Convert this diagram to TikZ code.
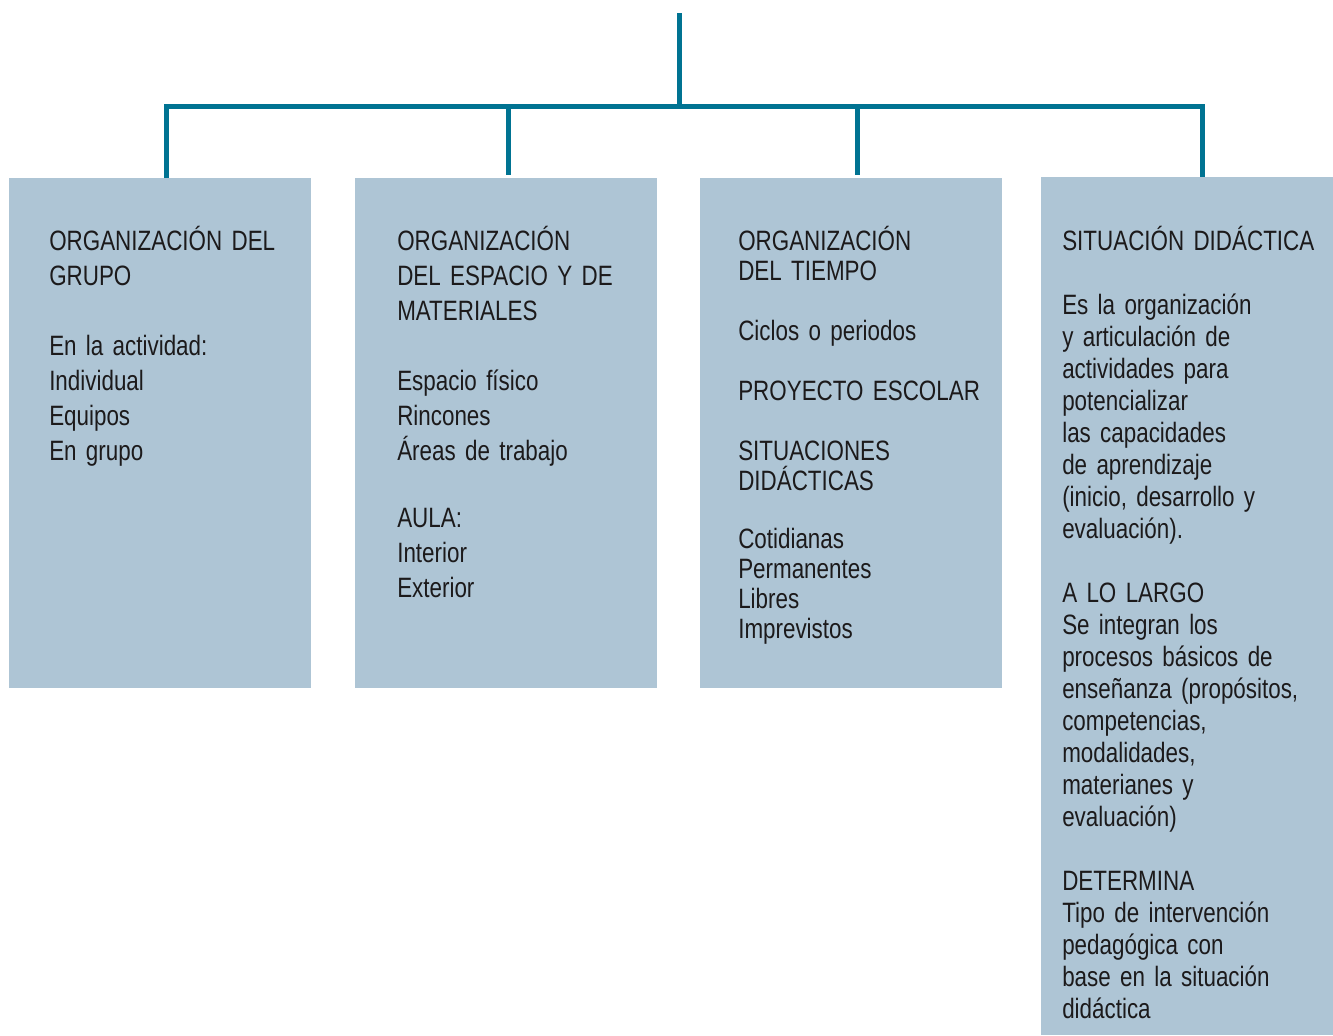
\documentclass[tikz,border=0pt]{standalone}
\usepackage{fontspec}
\setmainfont{Liberation Sans}[FakeStretch=0.8,WordSpace=0.8]
\usetikzlibrary{positioning}
\definecolor{panelblue}{RGB}{174,197,213}
\definecolor{linkteal}{RGB}{0,115,146}
\definecolor{inkgray}{RGB}{28,26,27}

\begin{document}
\begin{tikzpicture}[x=0.75pt,y=-0.75pt,
    panel/.style={fill=panelblue,draw=none,anchor=north west,inner sep=0,
        minimum width=226.5pt,minimum height=382.5pt},
    link/.style={draw=linkteal,line width=3.75pt},
    paneltext/.style={anchor=base west,inner sep=0,align=left,text=inkgray,
        text width=210pt},
    ]
    \useasboundingbox (0,0) rectangle (1333,1035);

    %the four panels
    \node[panel] (grupo) at (9,178) {};
    \node[panel] (espacio) at (355,178) {};
    \node[panel] (tiempo) at (700,178) {};
    \node[panel,minimum width=219pt,minimum height=643.5pt] (situacion) at (1041,177) {};

    %tree of connectors
    \coordinate (top) at (679,13);
    \coordinate (hub) at (679,106);
    \coordinate (d1) at (166,106);
    \coordinate (d2) at (508,106);
    \coordinate (d3) at (857,106);
    \coordinate (d4) at (1202,106);
    \draw[link] (top) -- (hub);
    \draw[link] (d1 |- grupo.north) -- (d1) -- (d4) -- (d4 |- situacion.north);
    \draw[link] (d2) -- ([yshift=2.25pt]d2 |- espacio.north);
    \draw[link] (d3) -- ([yshift=2.25pt]d3 |- tiempo.north);

    %texts of the panels
    \node[paneltext,font=\fontsize{21}{26.25}\selectfont] (grupotxt) at (49,250)
        {ORGANIZACIÓN DEL\\ GRUPO\\[26.25pt]
         En la actividad:\\ Individual\\ Equipos\\ En grupo};

    \node[paneltext,font=\fontsize{21}{26.25}\selectfont] (espaciotxt) at (397,250)
        {ORGANIZACIÓN\\ DEL ESPACIO Y DE\\ MATERIALES\\[26.25pt]
         Espacio físico\\ Rincones\\ Áreas de trabajo\\[24pt]
         AULA:\\ Interior\\ Exterior};

    \node[paneltext,font=\fontsize{21}{22.5}\selectfont] (tiempotxt) at (738,250)
        {ORGANIZACIÓN\\ DEL TIEMPO\\[22.5pt]
         Ciclos o periodos\\[22.5pt]
         PROYECTO ESCOLAR\\[22.5pt]
         SITUACIONES\\ DIDÁCTICAS\\[21pt]
         Cotidianas\\ Permanentes\\ Libres\\ Imprevistos};

    \node[paneltext,font=\fontsize{21}{24}\selectfont] (situaciontxt) at (1062,250)
        {SITUACIÓN DIDÁCTICA\\[24pt]
         Es la organización\\ y articulación de\\ actividades para\\ potencializar\\
         las capacidades\\ de aprendizaje\\ (inicio, desarrollo y\\ evaluación).\\[24pt]
         A LO LARGO\\ Se integran los\\ procesos básicos de\\ enseñanza (propósitos,\\
         competencias,\\ modalidades,\\ materianes y\\ evaluación)\\[24pt]
         DETERMINA\\ Tipo de intervención\\ pedagógica con\\ base en la situación\\ didáctica};
\end{tikzpicture}
\end{document}
